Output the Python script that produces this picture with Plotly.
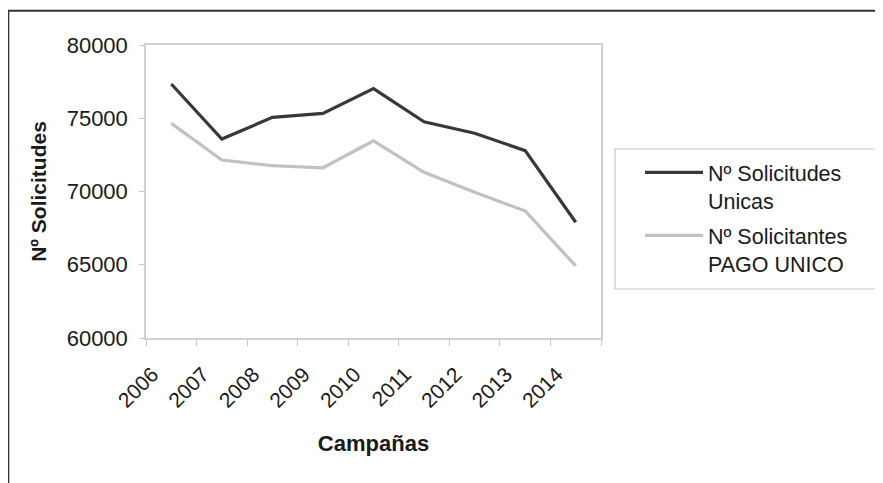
import plotly.graph_objects as go

campanas = ["2006", "2007", "2008", "2009", "2010", "2011", "2012", "2013", "2014"]
solicitudes_unicas = [77340, 73580, 75060, 75330, 77020, 74760, 73980, 72790, 67900]
solicitantes_pago_unico = [74650, 72150, 71760, 71620, 73450, 71310, 69950, 68670, 64920]
y_ticks = [60000, 65000, 70000, 75000, 80000]

W, H = 883, 483
OFF = 8  # page offset of the figure (body margin)
L, R, T, B = 146 - OFF, 601 - OFF, 45 - OFF, 338 - OFF


def px_x(px):
    return (px - OFF - L) / (R - L)


def px_y(py):
    return (B - (py - OFF)) / (B - T)


font_family = "Liberation Sans, Arial, sans-serif"
txt = "#1a1a1a"

fig = go.Figure()
fig.add_trace(go.Scatter(
    x=campanas, y=solicitudes_unicas, mode="lines",
    name="Nº Solicitudes<br>Unicas", legendgroup="a",
    line=dict(color="#383838", width=3.2),
))
fig.add_trace(go.Scatter(
    x=campanas, y=solicitantes_pago_unico, mode="lines",
    name="Nº Solicitantes<br>PAGO UNICO", legendgroup="b",
    line=dict(color="#bec2c7", width=3.2),
))

fig.update_layout(
    width=W, height=H,
    margin=dict(l=L, r=W - R, t=T, b=H - B, pad=0),
    paper_bgcolor="white", plot_bgcolor="white",
    font=dict(family=font_family, size=21, color=txt),
    showlegend=True,
    legend=dict(
        x=px_x(640), y=px_y(152), xanchor="left", yanchor="top",
        bgcolor="rgba(0,0,0,0)", borderwidth=0,
        font=dict(size=21.5, color=txt),
        valign="top", itemwidth=58, tracegroupgap=4,
    ),
    xaxis=dict(
        type="category", range=[-0.5, 8.5],
        tickson="boundaries", ticks="outside", ticklen=6, tickcolor="#c8c8c8",
        showline=True, linecolor="#d0d0d0", linewidth=1.5, mirror=True,
        showgrid=False, tickangle=-45, ticklabelstandoff=14, ticklabelshift=-19,
        tickfont=dict(size=21, color=txt),
        title=dict(text="<b>Campañas</b>", font=dict(size=22, color=txt), standoff=25),
    ),
    yaxis=dict(
        range=[60000, 80000], tickvals=y_ticks, ticktext=[str(v) for v in y_ticks],
        ticks="outside", ticklen=5, tickcolor="#c8c8c8",
        showline=True, linecolor="#d0d0d0", linewidth=1.5, mirror=True,
        showgrid=False, zeroline=False, ticklabelstandoff=7,
        tickfont=dict(size=22, color=txt),
        title=dict(text="<b>Nº Solicitudes</b>", font=dict(size=21, color=txt), standoff=14),
    ),
    shapes=[
        dict(type="rect", xref="paper", yref="paper",
             x0=px_x(615), x1=px_x(881), y0=px_y(289), y1=px_y(149),
             line=dict(color="#c8c8c8", width=1.2), fillcolor="rgba(0,0,0,0)"),
        dict(type="path", xref="paper", yref="paper",
             path=f"M {px_x(8.3)},{px_y(500)} L {px_x(8.3)},{px_y(10.7)} L {px_x(900)},{px_y(10.7)}",
             line=dict(color="#333333", width=2)),
    ],
)

fig.write_html("out.html")
